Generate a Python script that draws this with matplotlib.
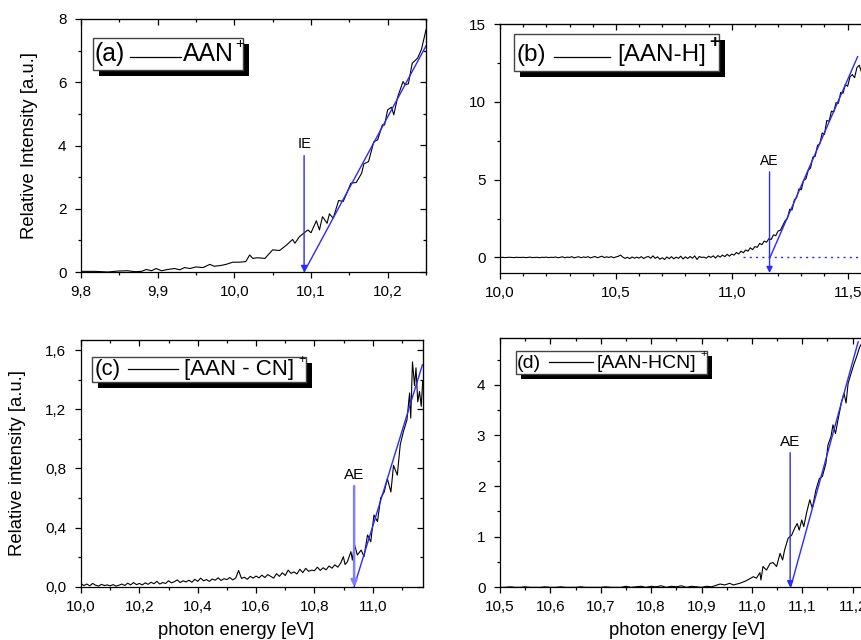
import matplotlib
matplotlib.use("Agg")
import matplotlib.pyplot as plt
from matplotlib.patches import Rectangle
from matplotlib.lines import Line2D
from matplotlib.ticker import MultipleLocator
from matplotlib.transforms import Affine2D

plt.rcParams['font.family'] = ['Liberation Sans', 'DejaVu Sans']

# ---------------- data ----------------
# (a) AAN+
ea = [9.800, 9.818, 9.835, 9.848, 9.861, 9.870, 9.879, 9.885, 9.892, 9.898,
      9.905, 9.913, 9.922, 9.929, 9.935, 9.942, 9.950, 9.959, 9.968, 9.974,
      9.983, 9.989, 9.998, 10.007, 10.015, 10.020, 10.024, 10.030, 10.040, 10.044,
      10.050, 10.059, 10.068, 10.076, 10.079, 10.085, 10.096, 10.100, 10.107, 10.111,
      10.115, 10.121, 10.124, 10.129, 10.136, 10.142, 10.147, 10.152, 10.159, 10.166,
      10.169, 10.175, 10.182, 10.187, 10.193, 10.196, 10.200, 10.205, 10.208, 10.213,
      10.220, 10.223, 10.227, 10.232, 10.239, 10.244, 10.250]
ia = [0.02, 0.02, 0.00, 0.03, 0.04, 0.01, 0.02, 0.08, 0.04, 0.11,
      0.04, 0.08, 0.11, 0.07, 0.14, 0.11, 0.16, 0.14, 0.24, 0.18,
      0.21, 0.24, 0.31, 0.31, 0.33, 0.54, 0.43, 0.45, 0.43, 0.54,
      0.70, 0.68, 0.85, 1.03, 0.91, 1.12, 1.33, 1.24, 1.62, 1.33,
      1.75, 1.54, 1.84, 1.70, 2.26, 2.23, 2.51, 2.81, 2.83, 3.12,
      3.42, 3.49, 4.12, 4.18, 4.65, 4.65, 5.13, 5.21, 4.97, 5.53,
      6.02, 5.92, 5.95, 6.60, 6.76, 7.03, 7.66]
ie_a = 10.091
fit_a = ([10.091, 10.250], [0.0, 7.15])

# (b) [AAN-H]+
eb = [10.00, 10.01, 10.02, 10.03, 10.04, 10.05, 10.06, 10.07, 10.08, 10.09,
      10.10, 10.11, 10.12, 10.13, 10.14, 10.15, 10.16, 10.17, 10.18, 10.19,
      10.20, 10.21, 10.22, 10.23, 10.24, 10.25, 10.26, 10.27, 10.28, 10.29,
      10.30, 10.31, 10.32, 10.33, 10.34, 10.35, 10.36, 10.37, 10.38, 10.39,
      10.40, 10.41, 10.42, 10.43, 10.44, 10.45, 10.46, 10.47, 10.48, 10.49,
      10.50, 10.51, 10.52, 10.53, 10.54, 10.55, 10.56, 10.57, 10.58, 10.59,
      10.60, 10.61, 10.62, 10.63, 10.64, 10.65, 10.66, 10.67, 10.68, 10.69,
      10.70, 10.71, 10.72, 10.73, 10.74, 10.75, 10.76, 10.77, 10.78, 10.79,
      10.80, 10.81, 10.82, 10.83, 10.84, 10.85, 10.86, 10.87, 10.88, 10.89,
      10.90, 10.91, 10.92, 10.93, 10.94, 10.95, 10.96, 10.97, 10.98, 10.99,
      11.00, 11.01, 11.02, 11.03, 11.04, 11.05, 11.06, 11.07, 11.08, 11.09,
      11.10, 11.11, 11.12, 11.13, 11.14, 11.15, 11.16, 11.17, 11.18, 11.19,
      11.20, 11.21, 11.22, 11.23, 11.24, 11.25, 11.26, 11.27, 11.28, 11.29,
      11.30, 11.31, 11.32, 11.33, 11.34, 11.35, 11.36, 11.37, 11.38, 11.39,
      11.40, 11.41, 11.42, 11.43, 11.44, 11.45, 11.46, 11.47, 11.48, 11.49,
      11.50, 11.51, 11.52, 11.53, 11.54, 11.55, 11.56, 11.57]
ib = [0.00, 0.01, -0.01, 0.00, 0.01, 0.00, -0.01, 0.01, 0.00, 0.00,
      0.01, -0.01, 0.00, 0.02, -0.01, 0.00, 0.01, -0.02, 0.01, 0.00,
      0.02, -0.01, 0.01, 0.00, 0.03, -0.02, 0.01, 0.04, -0.02, 0.02,
      0.00, 0.05, -0.03, 0.02, 0.04, -0.02, 0.03, 0.00, 0.05, -0.03,
      0.02, 0.06, -0.02, 0.03, 0.08, -0.01, 0.04, 0.00, 0.05, -0.02,
      0.03, 0.07, 0.15, 0.02, -0.06, 0.01, -0.08, 0.03, -0.05, 0.02,
      -0.04, 0.05, -0.07, 0.02, 0.06, -0.05, 0.10, -0.06, 0.04, -0.12,
      -0.02, -0.13, 0.03, -0.08, 0.05, -0.09, 0.02, -0.06, 0.08, -0.10,
      0.04, -0.07, 0.06, -0.05, 0.10, -0.13, 0.06, 0.00, 0.02, -0.05,
      0.08, 0.00, 0.10, -0.04, 0.12, 0.02, 0.15, 0.05, 0.20, 0.08,
      0.22, 0.15, 0.32, 0.22, 0.40, 0.30, 0.48, 0.40, 0.62, 0.50,
      0.70, 0.65, 0.90, 0.82, 1.05, 0.98, 1.20, 1.15, 1.45, 1.40,
      1.70, 1.75, 2.05, 2.35, 2.50, 3.10, 3.05, 3.70, 3.85, 4.40,
      4.35, 4.95, 5.05, 5.60, 5.75, 6.45, 6.50, 7.20, 7.30, 8.00,
      7.90, 8.80, 8.75, 9.40, 9.35, 9.95, 9.90, 10.60, 10.55, 11.10,
      11.00, 11.60, 11.75, 11.55, 12.20, 12.35, 11.90, 12.60]
ae_b = 11.163
fit_b = ([11.165, 11.543], [0.0, 12.9])
base_b = ([11.05, 11.70], [0.0, 0.0])

# (c) [AAN - CN]+
ec = [10.00, 10.01, 10.02, 10.03, 10.04, 10.05, 10.06, 10.07, 10.08, 10.09,
      10.10, 10.11, 10.12, 10.13, 10.14, 10.15, 10.16, 10.17, 10.18, 10.19,
      10.20, 10.21, 10.22, 10.23, 10.24, 10.25, 10.26, 10.27, 10.28, 10.29,
      10.30, 10.31, 10.32, 10.33, 10.34, 10.35, 10.36, 10.37, 10.38, 10.39,
      10.40, 10.41, 10.42, 10.43, 10.44, 10.45, 10.46, 10.47, 10.48, 10.49,
      10.50, 10.51, 10.52, 10.53, 10.54, 10.55, 10.56, 10.57, 10.58, 10.59,
      10.60, 10.61, 10.62, 10.63, 10.64, 10.65, 10.66, 10.67, 10.68, 10.69,
      10.70, 10.71, 10.72, 10.73, 10.74, 10.75, 10.76, 10.77, 10.78, 10.79,
      10.80, 10.81, 10.82, 10.83, 10.84, 10.85, 10.86, 10.87, 10.88, 10.89,
      10.899, 10.905, 10.913, 10.925, 10.930, 10.937, 10.947, 10.960, 10.970, 10.982,
      10.993, 11.004, 11.016, 11.027, 11.039, 11.050, 11.062, 11.071, 11.084, 11.094,
      11.105, 11.117, 11.126, 11.130, 11.136, 11.143, 11.148, 11.154, 11.160, 11.166,
      11.171]
ic = [0.020, 0.008, 0.018, 0.006, 0.022, 0.010, 0.004, 0.016, 0.008, 0.012,
      0.006, 0.014, 0.004, 0.010, 0.018, 0.008, 0.024, 0.012, 0.028, 0.014,
      0.022, 0.012, 0.026, 0.016, 0.030, 0.020, 0.036, 0.018, 0.028, 0.022,
      0.040, 0.026, 0.034, 0.046, 0.028, 0.040, 0.032, 0.044, 0.030, 0.050,
      0.036, 0.058, 0.040, 0.048, 0.036, 0.052, 0.044, 0.060, 0.042, 0.054,
      0.048, 0.062, 0.046, 0.058, 0.110, 0.056, 0.064, 0.050, 0.070, 0.058,
      0.072, 0.060, 0.078, 0.062, 0.082, 0.070, 0.058, 0.088, 0.070, 0.094,
      0.076, 0.112, 0.090, 0.100, 0.086, 0.118, 0.095, 0.124, 0.104, 0.112,
      0.108, 0.132, 0.110, 0.128, 0.114, 0.140, 0.125, 0.148, 0.132, 0.160,
      0.203, 0.150, 0.169, 0.237, 0.180, 0.287, 0.214, 0.248, 0.203, 0.350,
      0.304, 0.485, 0.440, 0.600, 0.640, 0.730, 0.640, 0.820, 0.755, 0.960,
      1.050, 1.127, 1.310, 1.140, 1.520, 1.360, 1.480, 1.250, 1.320, 1.220,
      1.390]
ae_c = 10.936
fit_c = ([10.936, 11.170], [0.0, 1.50])

# (d) [AAN-HCN]+
ed = [10.50, 10.51, 10.52, 10.53, 10.54, 10.55, 10.56, 10.57, 10.58, 10.59,
      10.60, 10.61, 10.62, 10.63, 10.64, 10.65, 10.66, 10.67, 10.68, 10.69,
      10.70, 10.71, 10.72, 10.73, 10.74, 10.75, 10.76, 10.77, 10.78, 10.79,
      10.80, 10.81, 10.82, 10.83, 10.84, 10.85, 10.86, 10.87, 10.88, 10.89,
      10.90, 10.91, 10.92, 10.937, 10.946, 10.956, 10.963, 10.976, 10.989, 11.003,
      11.009, 11.016, 11.018, 11.022, 11.029, 11.036, 11.042, 11.049, 11.056, 11.061,
      11.065, 11.072, 11.079, 11.085, 11.090, 11.094, 11.099, 11.103, 11.109, 11.115,
      11.120, 11.127, 11.134, 11.140, 11.147, 11.151, 11.157, 11.161, 11.166, 11.171,
      11.178, 11.183, 11.187, 11.191, 11.198, 11.202, 11.208, 11.214, 11.220]
id_ = [0.00, 0.00, 0.01, 0.00, 0.00, 0.01, 0.00, 0.00, 0.00, 0.01,
       0.00, 0.00, 0.01, 0.00, 0.00, 0.00, 0.01, 0.00, 0.00, 0.00,
       0.00, 0.01, 0.00, 0.00, 0.00, 0.02, 0.00, 0.01, 0.02, 0.00,
       0.02, 0.01, 0.03, 0.00, 0.02, 0.01, 0.03, 0.00, 0.02, 0.01,
       0.00, 0.02, 0.01, 0.065, 0.046, 0.079, 0.046, 0.079, 0.13, 0.21,
       0.18, 0.29, 0.144, 0.41, 0.34, 0.47, 0.49, 0.41, 0.67, 0.54,
       0.74, 0.97, 1.03, 1.17, 1.26, 1.13, 1.33, 1.20, 1.49, 1.73,
       1.56, 1.92, 2.15, 2.19, 2.45, 2.81, 2.98, 3.21, 3.04, 3.31,
       3.67, 3.83, 3.64, 4.03, 4.26, 4.39, 4.56, 4.75, 4.85]
ae_d = 11.076
fit_d = ([11.077, 11.211], [0.0, 4.85])

# ticks
xt_a = [9.8, 9.9, 10.0, 10.1, 10.2]
xl_a = ['9,8', '9,9', '10,0', '10,1', '10,2']
yt_a = [0, 2, 4, 6, 8]
yl_a = ['0', '2', '4', '6', '8']
xt_b = [10.0, 10.5, 11.0, 11.5]
xl_b = ['10,0', '10,5', '11,0', '11,5']
yt_b = [0, 5, 10, 15]
yl_b = ['0', '5', '10', '15']
xt_c = [10.0, 10.2, 10.4, 10.6, 10.8, 11.0]
xl_c = ['10,0', '10,2', '10,4', '10,6', '10,8', '11,0']
yt_c = [0.0, 0.4, 0.8, 1.2, 1.6]
yl_c = ['0,0', '0,4', '0,8', '1,2', '1,6']
xt_d = [10.5, 10.6, 10.7, 10.8, 10.9, 11.0, 11.1, 11.2]
xl_d = ['10,5', '10,6', '10,7', '10,8', '10,9', '11,0', '11,1', '11,2']
yt_d = [0, 1, 2, 3, 4]
yl_d = ['0', '1', '2', '3', '4']

# ---------------- figure ----------------
W, H = 861, 640
fig = plt.figure(figsize=(W / 100, H / 100), dpi=100)
# transform in reference pixels (y downwards) for the key boxes
pix = Affine2D().scale(1 / W, -1 / H).translate(0, 1) + fig.transFigure


def make_axes(l, t, r, b):
    return fig.add_axes([l / W, 1 - b / H, (r - l) / W, (b - t) / H])


ax_a = make_axes(81, 19, 426, 272)
ax_b = make_axes(500, 24, 894, 273)
ax_c = make_axes(81, 340, 422.7, 586.7)
ax_d = make_axes(500, 338.3, 903, 587.3)

BLUE = '#2a2aff'
LW_CURVE = 0.8
TICK_FS = 11


def frame(ax, xt, xl, xminor, yt, yl, yminor):
    ax.set_xticks(xt)
    ax.set_xticklabels(xl)
    ax.set_yticks(yt)
    ax.set_yticklabels(yl)
    ax.xaxis.set_minor_locator(MultipleLocator(xminor))
    ax.yaxis.set_minor_locator(MultipleLocator(yminor))
    ax.tick_params(which='both', direction='out', labelsize=TICK_FS, width=0.9)
    ax.tick_params(which='major', length=4.5)
    ax.tick_params(which='minor', length=2.5)
    ax.tick_params(axis='x', pad=5)
    ax.tick_params(axis='y', pad=6)
    for s in ax.spines.values():
        s.set_linewidth(0.9)
    top = ax.secondary_xaxis('top')
    top.set_xticks(xt)
    top.set_xticklabels([])
    top.xaxis.set_minor_locator(MultipleLocator(xminor))
    top.tick_params(which='both', direction='in', width=0.9)
    top.tick_params(which='major', length=4.5)
    top.tick_params(which='minor', length=2.5)
    right = ax.secondary_yaxis('right')
    right.set_yticks(yt)
    right.set_yticklabels([])
    right.yaxis.set_minor_locator(MultipleLocator(yminor))
    right.tick_params(which='both', direction='in', width=0.9)
    right.tick_params(which='major', length=4.5)
    right.tick_params(which='minor', length=2.5)


def arrow(ax, x, y0, y1, label, fs, color=BLUE, lw=1.0):
    ax.annotate('', xy=(x, y1), xytext=(x, y0),
                arrowprops=dict(arrowstyle='-|>', color=color, lw=lw,
                                mutation_scale=9, shrinkA=0, shrinkB=0))
    ax.annotate(label, xy=(x, y0), xytext=(0, 3), textcoords='offset points',
                ha='center', va='bottom', fontsize=fs)


def key(box, tag, name, plus, fs, tag_x, line_x, name_x, text_y, line_y,
        plus_xy, plus_fs, plus_bold=False, shadow=6):
    l, t, r, b = box
    fig.add_artist(Rectangle((l + shadow, t + shadow), r - l, b - t,
                             transform=pix, facecolor='black', edgecolor='black',
                             lw=0, zorder=10))
    fig.add_artist(Rectangle((l, t), r - l, b - t, transform=pix,
                             facecolor='white', edgecolor='#444444', lw=1.0, zorder=11))
    fig.text(tag_x, text_y, tag, transform=pix, fontsize=fs, ha='left',
             va='center', zorder=12)
    fig.add_artist(Line2D(line_x, [line_y, line_y], transform=pix, color='black',
                          lw=0.9, zorder=12))
    fig.text(name_x, text_y, name, transform=pix, fontsize=fs, ha='left',
             va='center', zorder=12)
    fig.text(plus_xy[0], plus_xy[1], plus, transform=pix, fontsize=plus_fs,
             ha='left', va='center', zorder=12,
             fontweight='bold' if plus_bold else 'normal')


# (a)
ax_a.plot(ea, ia, color='black', lw=LW_CURVE)
ax_a.plot(fit_a[0], fit_a[1], color=BLUE, lw=1.0)
arrow(ax_a, ie_a, 3.68, 0.0, 'IE', 10.5)
ax_a.set_xlim(9.8, 10.25)
ax_a.set_ylim(0, 8)
frame(ax_a, xt_a, xl_a, 0.05, yt_a, yl_a, 1)
ax_a.set_ylabel('Relative Intensity [a.u.]', fontsize=13.3)
ax_a.yaxis.set_label_coords(-0.124, 0.5)

# (b)
ax_b.plot(eb, ib, color='black', lw=LW_CURVE)
ax_b.plot(base_b[0], base_b[1], color=BLUE, lw=1.0, ls=(0, (1.5, 3)))
ax_b.plot(fit_b[0], fit_b[1], color=BLUE, lw=1.0)
arrow(ax_b, ae_b, 5.5, -1.0, 'AE', 10)
ax_b.set_xlim(10.0, 11.7)
ax_b.set_ylim(-1, 15)
frame(ax_b, xt_b, xl_b, 0.1, yt_b, yl_b, 2.5)

# (c)
ax_c.plot(ec, ic, color='black', lw=LW_CURVE)
ax_c.plot(fit_c[0], fit_c[1], color=BLUE, lw=1.0)
arrow(ax_c, ae_c, 0.68, 0.0, 'AE', 11, color='#8080ff', lw=1.8)
ax_c.set_xlim(10.0, 11.171)
ax_c.set_ylim(0, 1.668)
frame(ax_c, xt_c, xl_c, 0.1, yt_c, yl_c, 0.2)
ax_c.set_ylabel('Relative intensity [a.u.]', fontsize=13.3)
ax_c.yaxis.set_label_coords(-0.161, 0.5)
ax_c.set_xlabel('photon energy [eV]', fontsize=13.3)
ax_c.xaxis.set_label_coords(0.454, -0.142)

# (d)
ax_d.plot(ed, id_, color='black', lw=LW_CURVE)
ax_d.plot(fit_d[0], fit_d[1], color=BLUE, lw=1.0)
arrow(ax_d, ae_d, 2.66, 0.0, 'AE', 11)
ax_d.set_xlim(10.5, 11.3)
ax_d.set_ylim(0, 4.92)
frame(ax_d, xt_d, xl_d, 0.05, yt_d, yl_d, 0.5)
ax_d.set_xlabel('photon energy [eV]', fontsize=13.3)
ax_d.xaxis.set_label_coords(0.465, -0.139)

# keys with shadow
key((93, 38, 243, 70), '(a)', 'AAN', '+', 17.8, 94, [130, 181], 183, 54, 57,
    (235, 44), 11)
key((514, 34, 719, 71), '(b)', '[AAN-H]', '+', 17.5, 516, [554, 610], 617, 55, 57,
    (709, 43), 13, plus_bold=True)
key((92, 357, 306, 382), '(c)', '[AAN - CN]', '+', 16, 95, [128, 178], 184, 369, 369,
    (298, 360), 9)
key((516, 351, 707, 374), '(d)', '[AAN-HCN]', '+', 14, 517, [549, 593], 597, 363, 362,
    (700, 354), 8, shadow=5)

fig.savefig('out.png', dpi=100)
